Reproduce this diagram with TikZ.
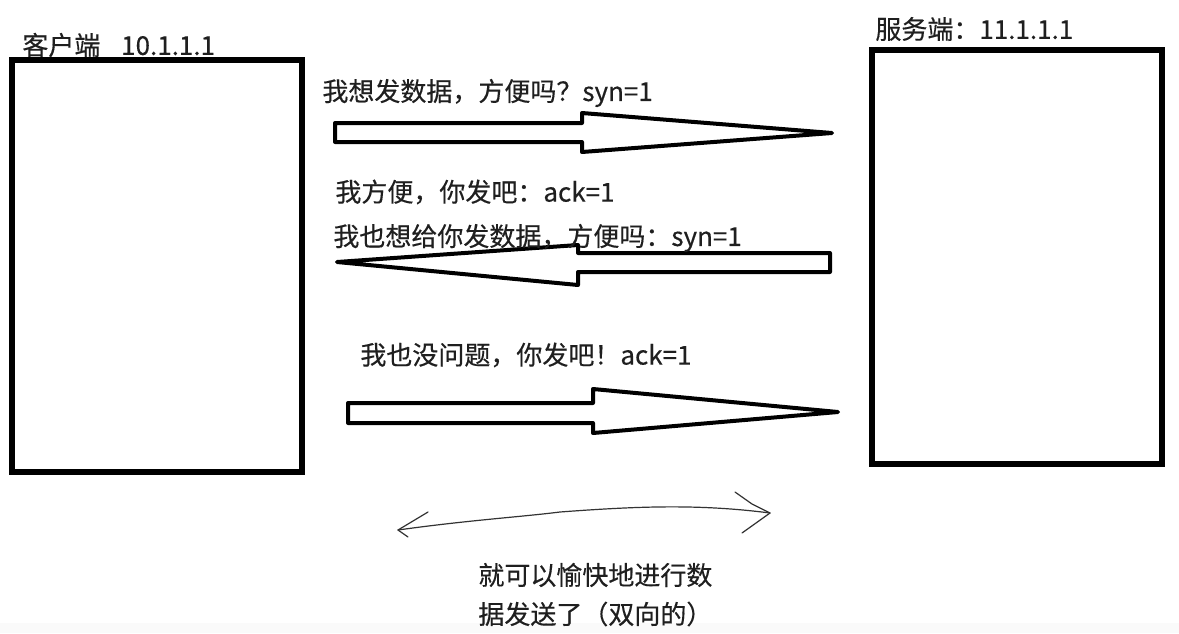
\documentclass[tikz,border=0pt]{standalone}
\usepackage{fontspec}
\setmainfont{Noto Sans CJK SC}[FakeBold=0.35]
\begin{document}
\begin{tikzpicture}[x=0.5pt,y=-0.5pt,
  hostbox/.style={draw=black,line width=2.6pt,fill=white},
  bigarrow/.style={draw=black,line width=2pt,line join=round,fill=white},
  lbl/.style={anchor=west,inner sep=0pt,text=black!88,font=\fontsize{13}{15}\selectfont},
  sketch/.style={draw=black!80,line width=0.6pt,line cap=round,line join=round}]
\useasboundingbox (0,0) rectangle (1179,633);
\fill[white] (0,0) rectangle (1179,633);
\fill[black!2] (0,623) rectangle (1179,633);
% hosts
\draw[hostbox] (12,60) rectangle (302,472);
\node[inner sep=0pt] (client) at (157,266) {};
\draw[hostbox] (872,50) rectangle (1162,464);
\node[inner sep=0pt] (server) at (1017,257) {};
\node[lbl] (clientlbl) at (22,45) {客户端\hspace{0.8em}10.1.1.1};
\node[lbl] (serverlbl) at (875,29) {服务端：11.1.1.1};
% arrow 1
\draw[bigarrow] (335,123) -- (582,123) -- (582,113) -- (832,133) -- (582,152) -- (582,142) -- (335,142) -- cycle;
\node[lbl] (m1) at (322,93) {我想发数据，方便吗？syn=1};
% arrow 2
\node[lbl] (m2) at (335,192) {我方便，你发吧：ack=1};
\draw[bigarrow] (830,253) -- (578,253) -- (578,245) -- (337,262) -- (578,285) -- (578,272) -- (830,272) -- cycle;
\node[lbl] (m3) at (333,238) {我也想给你发数据，方便吗：syn=1};
% arrow 3
\node[lbl] (m4) at (360,355) {我也没问题，你发吧！ack=1};
\draw[bigarrow] (348,403) -- (593,403) -- (593,389) -- (838,412) -- (593,433) -- (593,423) -- (348,423) -- cycle;
% hand drawn double arrow
\coordinate (la) at (398,530);
\coordinate (ra) at (770,513);
\draw[sketch] (la) .. controls (470,520) and (520,517) .. (560,512) .. controls (640,506) and (700,504) .. (ra);
\draw[sketch] (428,512) -- (la) -- (408,537);
\draw[sketch] (735,492) -- (752,504) -- (ra) -- (742,533);
\node[lbl] (c1) at (478,575) {就可以愉快地进行数};
\node[lbl] (c2) at (478,614) {据发送了（双向的）};
\end{tikzpicture}
\end{document}
